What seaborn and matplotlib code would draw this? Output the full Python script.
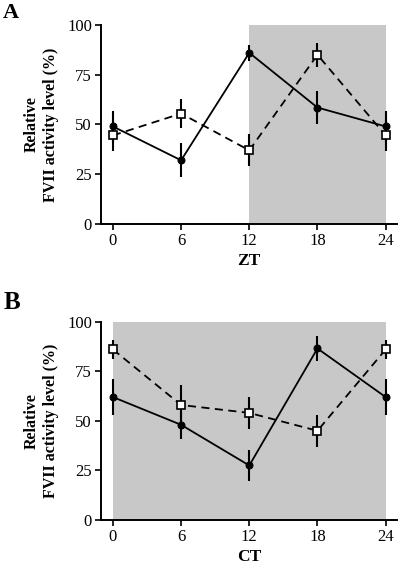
import matplotlib
matplotlib.use("Agg")
import matplotlib.pyplot as plt
import seaborn as sns
import pandas as pd

# -----------------------------
# Data
# -----------------------------
hours = [0, 6, 12, 18, 24]

# Panel A (ZT)
a_solid = [49, 32, 86, 58.5, 49]
a_solid_err = [8, 8.5, 4, 8.5, 8]
a_open = [44.5, 55.5, 37, 85, 44.5]
a_open_err = [8, 7.5, 8, 6, 8]
a_shade = [12, 24]

# Panel B (CT)
b_solid = [62, 48, 27.5, 86.5, 62]
b_solid_err = [9, 7, 8, 6.5, 9]
b_open = [86, 58, 54, 45, 86]
b_open_err = [5, 10, 8, 8, 5]
b_shade = [0, 24]

yticks = [0, 25, 50, 75, 100]

sns.set_style("ticks")
plt.rcParams["font.family"] = ["Liberation Serif", "DejaVu Serif"]
plt.rcParams["text.color"] = "black"
plt.rcParams["axes.labelcolor"] = "black"
plt.rcParams["xtick.color"] = "black"
plt.rcParams["ytick.color"] = "black"

fig = plt.figure(figsize=(4, 5.64), dpi=100)
ax_a = fig.add_axes([0.2525, 0.6028, 0.74, 0.353])
ax_b = fig.add_axes([0.2525, 0.078, 0.74, 0.3516])


def draw_panel(ax, solid, solid_err, open_, open_err, shade, xlabel):
    ax.axvspan(shade[0], shade[1], color="#c8c8c8", lw=0, zorder=0)
    df = pd.DataFrame({"h": hours, "solid": solid, "open": open_})
    ax.errorbar(hours, solid, yerr=solid_err, fmt="none", ecolor="black",
                elinewidth=1.5, capsize=0, zorder=2)
    ax.errorbar(hours, open_, yerr=open_err, fmt="none", ecolor="black",
                elinewidth=1.5, capsize=0, zorder=2)
    sns.lineplot(data=df, x="h", y="solid", ax=ax, color="black", lw=1.3,
                 marker="o", markersize=5, markerfacecolor="black",
                 markeredgecolor="black", zorder=3)
    sns.lineplot(data=df, x="h", y="open", ax=ax, color="black", lw=1.3,
                 linestyle=(0, (4.5, 3)), marker="s", markersize=5.5,
                 markerfacecolor="white", markeredgecolor="black",
                 markeredgewidth=1.2, zorder=4)
    ax.set_xlim(-1.05, 25)
    ax.set_ylim(0, 100)
    ax.set_xticks(hours)
    ax.set_yticks(yticks)
    ax.tick_params(labelsize=12, length=4.5, width=1.2, direction="out", pad=2)
    for s in ["top", "right"]:
        ax.spines[s].set_visible(False)
    for s in ["left", "bottom"]:
        ax.spines[s].set_linewidth(1.4)
        ax.spines[s].set_color("black")
    ax.set_xlabel(xlabel, fontsize=12.5, fontweight="bold", labelpad=3)
    ax.set_ylabel("Relative\nFVII activity level (%)", fontsize=11.5,
                  fontweight="bold", labelpad=6, linespacing=1.25)


draw_panel(ax_a, a_solid, a_solid_err, a_open, a_open_err, a_shade, "ZT")
draw_panel(ax_b, b_solid, b_solid_err, b_open, b_open_err, b_shade, "CT")

fig.text(0.008, 0.968, "A", fontsize=16, fontweight="bold", va="baseline")
fig.text(0.008, 0.452, "B", fontsize=18, fontweight="bold", va="baseline")

fig.savefig("out.png", dpi=100)
